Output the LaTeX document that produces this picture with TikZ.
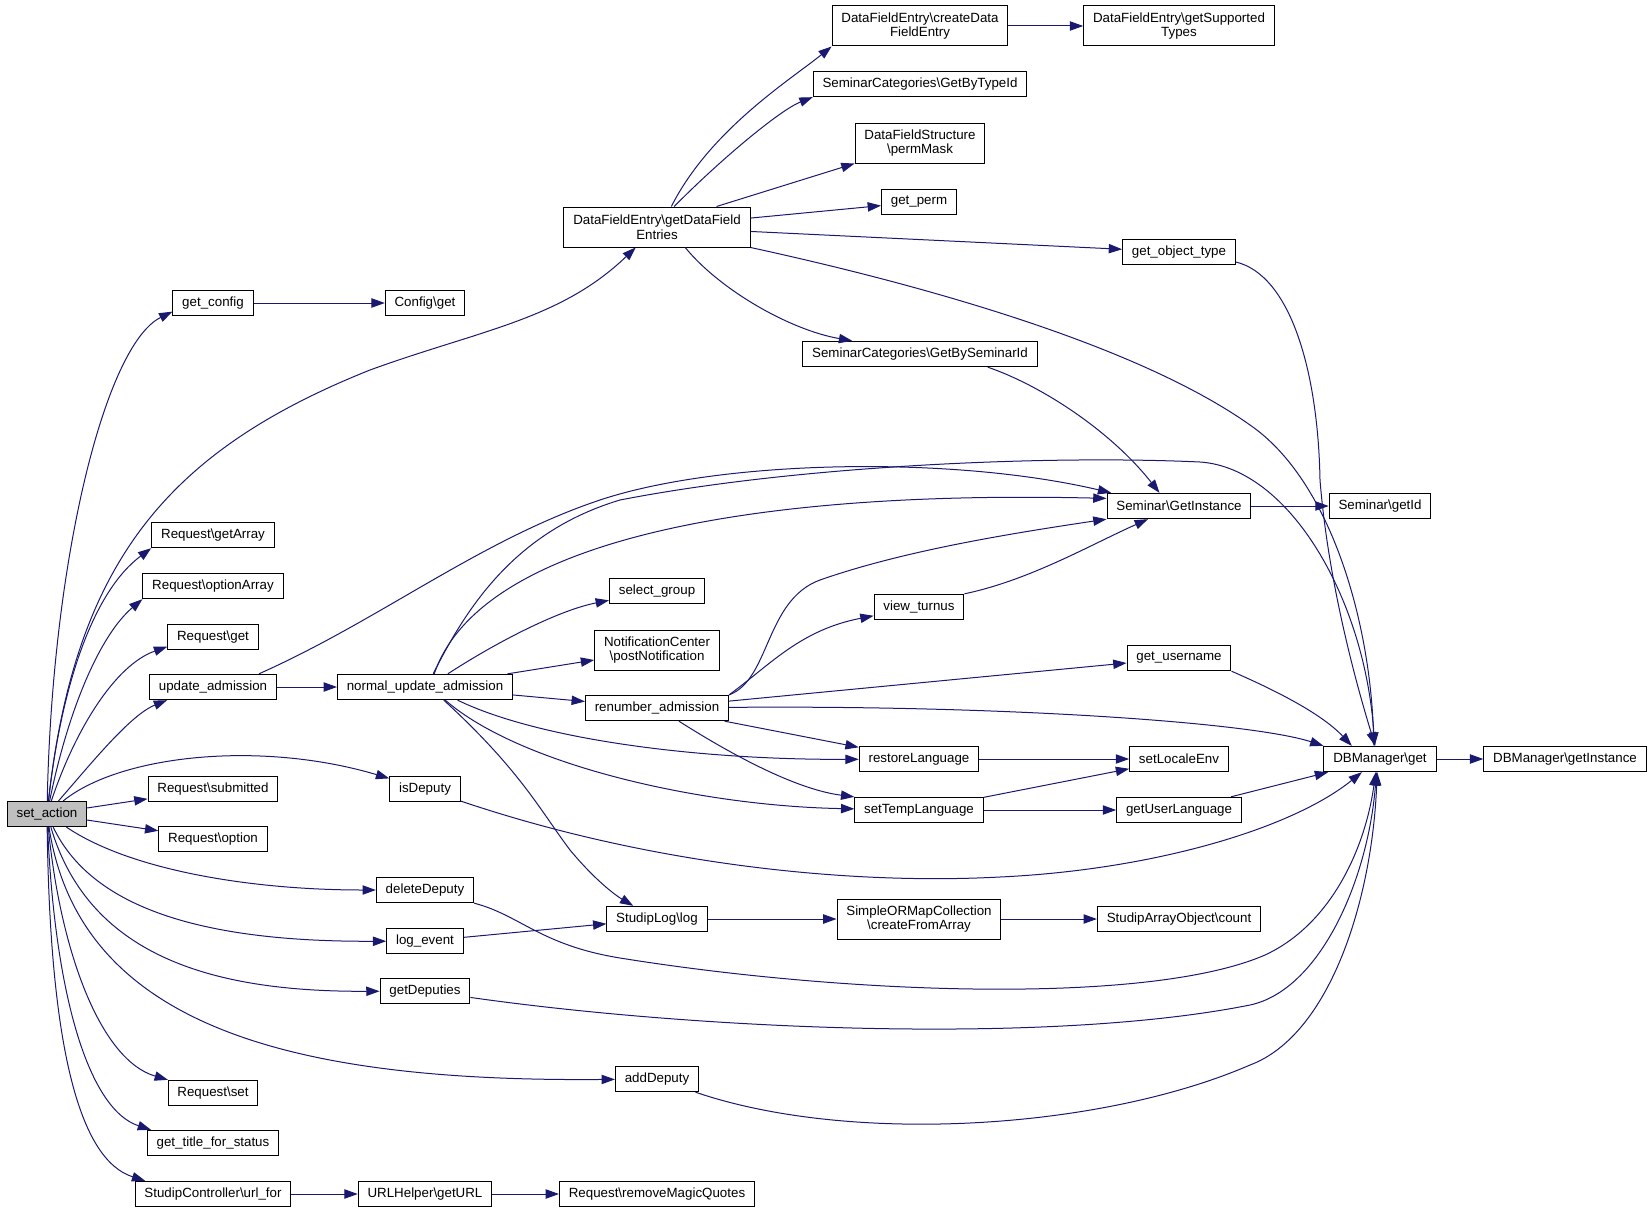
\documentclass[tikz,border=0pt]{standalone}
\usepackage{fontspec}
\setmainfont{Liberation Sans}
\usetikzlibrary{arrows.meta}

\definecolor{calledge}{HTML}{191970}
\definecolor{curfill}{HTML}{BFBFBF}
\newcommand{\bksl}{\textbackslash}

\tikzset{
  fnbox/.style={draw=black, fill=white, line width=0.75pt, font=\fontsize{10}{11}\selectfont,
    inner xsep=7pt, inner ysep=0pt, minimum height=19pt, align=center},
  fnboxtwo/.style={fnbox, minimum height=30pt},
  curbox/.style={fnbox, fill=curfill},
  calls/.style={draw=calledge, line width=0.75pt, -{Triangle[length=10pt,width=7pt]}}
}

\begin{document}
\begin{tikzpicture}

 \begin{scope}[x=0.75pt,y=-0.75pt]

  \useasboundingbox (0,0) rectangle (1652,1213);

    \node[curbox] (sa) at (47,814) {set\_action};

    \node[fnbox] (gc) at (213,303) {get\_config};
    \node[fnbox] (rga) at (213,535) {Request\bksl getArray};
    \node[fnbox] (roa) at (213,586) {Request\bksl optionArray};
    \node[fnbox] (rg) at (213,637) {Request\bksl get};
    \node[fnbox] (ua) at (213,687) {update\_admission};
    \node[fnbox] (rs) at (213,789) {Request\bksl submitted};
    \node[fnbox] (ro) at (213,839) {Request\bksl option};
    \node[fnbox] (rset) at (213,1093) {Request\bksl set};
    \node[fnbox] (gts) at (213,1143) {get\_title\_for\_status};
    \node[fnbox] (uf) at (213,1194) {StudipController\bksl url\_for};

    \node[fnbox] (cg) at (425,303) {Config\bksl get};
    \node[fnbox] (nua) at (425,687) {normal\_update\_admission};
    \node[fnbox] (isd) at (425,789) {isDeputy};
    \node[fnbox] (dd) at (425,890) {deleteDeputy};
    \node[fnbox] (le) at (425,941) {log\_event};
    \node[fnbox] (gd) at (425,991) {getDeputies};
    \node[fnbox] (ug) at (425,1194) {URLHelper\bksl getURL};

    \node[fnboxtwo] (gdfe) at (657,227) {DataFieldEntry\bksl getDataField\\Entries};
    \node[fnbox] (sg) at (657,591) {select\_group};
    \node[fnboxtwo] (nc) at (657,650) {NotificationCenter\\\bksl postNotification};
    \node[fnbox] (ra) at (657,708) {renumber\_admission};
    \node[fnbox] (sl) at (657,919) {StudipLog\bksl log};
    \node[fnbox] (ad) at (657,1079) {addDeputy};
    \node[fnbox] (rmq) at (657,1194) {Request\bksl removeMagicQuotes};

    \node[fnboxtwo] (cdfe) at (920,26) {DataFieldEntry\bksl createData\\FieldEntry};
    \node[fnbox] (gbt) at (920,84) {SeminarCategories\bksl GetByTypeId};
    \node[fnboxtwo] (pm) at (920,143) {DataFieldStructure\\\bksl permMask};
    \node[fnbox] (gp) at (919,202) {get\_perm};
    \node[fnbox] (gbs) at (920,354) {SeminarCategories\bksl GetBySeminarId};
    \node[fnbox] (vt) at (919,607) {view\_turnus};
    \node[fnbox] (rl) at (919,759) {restoreLanguage};
    \node[fnbox] (stl) at (919,810) {setTempLanguage};
    \node[fnboxtwo] (cfa) at (919,919) {SimpleORMapCollection\\\bksl createFromArray};

    \node[fnboxtwo] (gst) at (1179,26) {DataFieldEntry\bksl getSupported\\Types};
    \node[fnbox] (got) at (1179,252) {get\_object\_type};
    \node[fnbox] (sgi) at (1179,506) {Seminar\bksl GetInstance};
    \node[fnbox] (gu) at (1179,658) {get\_username};
    \node[fnbox] (sle) at (1179,759) {setLocaleEnv};
    \node[fnbox] (gul) at (1179,810) {getUserLanguage};
    \node[fnbox] (sac) at (1179,919) {StudipArrayObject\bksl count};

    \node[fnbox] (sid) at (1380,506) {Seminar\bksl getId};
    \node[fnbox] (dbg) at (1380,759) {DBManager\bksl get};

    \node[fnbox] (dbi) at (1565,759) {DBManager\bksl getInstance};

    \draw[calls] (sa) .. controls (52,560) and (105,345) .. (gc.192);
    \draw[calls] (sa) .. controls (75,560) and (170,450) .. (370,370) .. controls (480,330) and (560,320) .. (gdfe);
    \draw[calls] (sa) .. controls (62,680) and (95,590) .. (rga.south west);
    \draw[calls] (sa) .. controls (68,710) and (100,635) .. (roa.south west);
    \draw[calls] (sa) .. controls (75,730) and (115,665) .. (rg.192);
    \draw[calls] (sa) .. controls (90,765) and (130,715) .. (ua.196);
    \draw[calls] (sa) .. controls (120,755) and (260,740) .. (isd);
    \draw[calls] (sa) -- (rs);
    \draw[calls] (sa) -- (ro);
    \draw[calls] (sa) .. controls (130,870) and (250,890) .. (dd);
    \draw[calls] (sa) .. controls (95,915) and (220,942) .. (le);
    \draw[calls] (sa) .. controls (90,960) and (220,992) .. (gd);
    \draw[calls] (sa) .. controls (80,1030) and (300,1082) .. (ad);
    \draw[calls] (sa) .. controls (60,950) and (100,1060) .. (rset);
    \draw[calls] (sa) .. controls (55,1000) and (90,1110) .. (gts.168);
    \draw[calls] (sa) .. controls (50,1050) and (80,1160) .. (uf.169);

    \draw[calls] (gc) -- (cg);
    \draw[calls] (ua) -- (nua);
    \draw[calls] (uf) -- (ug);
    \draw[calls] (ug) -- (rmq);
    \draw[calls] (le) -- (sl);
    \draw[calls] (sl) -- (cfa);
    \draw[calls] (cfa) -- (sac);

    \draw[calls] (gdfe.55) .. controls (710,130) and (790,80) .. (cdfe.south west);
    \draw[calls] (gdfe.50) .. controls (720,160) and (780,110) .. (gbt.187);
    \draw[calls] (gdfe.19) -- (pm.south west);
    \draw[calls] (gdfe) -- (gp);
    \draw[calls] (gdfe) -- (got);
    \draw[calls] (gdfe.-36) .. controls (720,290) and (790,330) .. (gbs.169);
    \draw[calls] (gdfe.south east) .. controls (900,280) and (1130,340) .. (1250,425) .. controls (1330,480) and (1370,620) .. (dbg.115);
    \draw[calls] (cdfe) -- (gst);
    \draw[calls] (got.-10) .. controls (1290,275) and (1318,370) .. (1320,480) .. controls (1328,580) and (1355,680) .. (dbg.110);
    \draw[calls] (gbs.-11) .. controls (1040,385) and (1110,430) .. (sgi.146);
    \draw[calls] (sgi) -- (sid);

    \draw[calls] (ua.16) .. controls (380,620) and (480,540) .. (600,500) .. controls (720,460) and (950,455) .. (sgi.169);
    \draw[calls] (nua.58) .. controls (470,600) and (520,530) .. (620,500) .. controls (800,465) and (1050,455) .. (1200,462) .. controls (1290,468) and (1365,600) .. (dbg.112);
    \draw[calls] (nua.55) .. controls (480,540) and (750,490) .. (sgi.174);
    \draw[calls] (nua.30) .. controls (500,640) and (560,610) .. (sg.191);
    \draw[calls] (nua) -- (nc);
    \draw[calls] (nua) -- (ra);
    \draw[calls] (nua.-22) .. controls (540,740) and (700,760) .. (rl);
    \draw[calls] (nua.-33) .. controls (520,765) and (700,806) .. (stl);
    \draw[calls] (nua.-35) .. controls (520,770) and (540,810) .. (570,850) .. controls (595,880) and (615,895) .. (sl.151);

    \draw[calls] (ra.north east) .. controls (770,680) and (765,600) .. (820,580) .. controls (900,552) and (1000,535) .. (sgi.south west);
    \draw[calls] (ra.north east) .. controls (770,665) and (800,630) .. (vt);
    \draw[calls] (ra) -- (gu);
    \draw[calls] (ra) .. controls (1000,705) and (1250,722) .. (dbg.north west);
    \draw[calls] (ra) -- (rl);
    \draw[calls] (ra.-31) .. controls (740,760) and (800,790) .. (stl.north west);
    \draw[calls] (vt.north east) .. controls (1030,580) and (1090,545) .. (sgi.203);

    \draw[calls] (rl) -- (sle);
    \draw[calls] (stl) -- (sle);
    \draw[calls] (stl) -- (gul);
    \draw[calls] (gu.south east) .. controls (1270,688) and (1320,712) .. (dbg.155);
    \draw[calls] (gul) -- (dbg);
    \draw[calls] (dbg) -- (dbi);

    \draw[calls] (isd) .. controls (650,865) and (850,885) .. (1000,877) .. controls (1150,870) and (1290,830) .. (dbg.-144);
    \draw[calls] (dd.south east) .. controls (520,915) and (540,945) .. (620,958) .. controls (850,995) and (1150,1005) .. (1265,955) .. controls (1330,925) and (1365,850) .. (dbg.-108);
    \draw[calls] (gd) .. controls (700,1030) and (1050,1045) .. (1250,1005) .. controls (1320,990) and (1368,880) .. (dbg.-105);
    \draw[calls] (ad) .. controls (850,1145) and (1100,1130) .. (1250,1065) .. controls (1330,1035) and (1372,900) .. (dbg.-102);

 \end{scope}

\end{tikzpicture}
\end{document}
